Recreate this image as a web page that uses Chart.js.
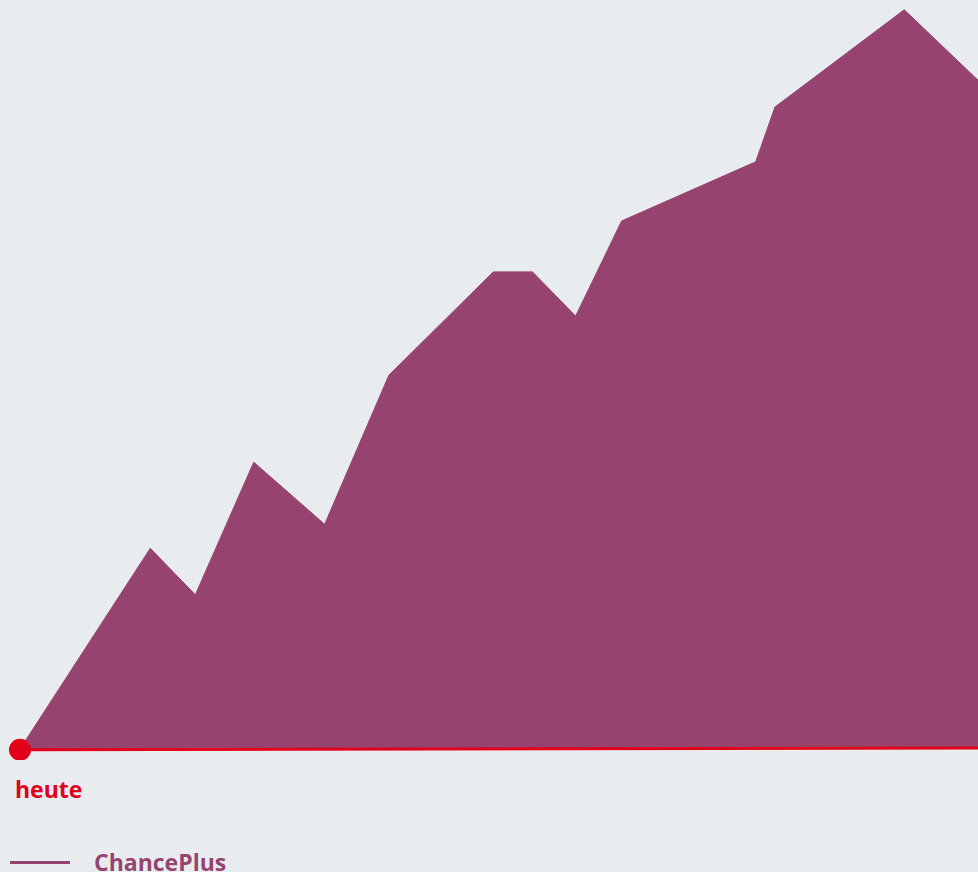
<!DOCTYPE html>
<html>
<head>
<meta charset="utf-8">
<script src="https://cdn.jsdelivr.net/npm/chart.js@4"></script>
<style>
  html, body { margin: 0; padding: 0; background: #e8ecef; }
  body { width: 978px; height: 872px; position: relative; overflow: hidden; font-family: "Open Sans", sans-serif; }
  /* wrapper sedikit lebih besar: Chart.js menambah padding untuk radius titik */
  #wrap { position: absolute; left: 0; top: -11px; width: 989px; height: 771px; }
  .heute { position: absolute; left: 15px; top: 775px; color: #e2001a; font-weight: 700; font-size: 23px; line-height: 28px; }
  .legend { position: absolute; left: 10px; top: 848px; height: 28px; display: flex; align-items: center; }
  .legend .swatch { width: 60px; height: 3px; background: #96446f; margin-right: 24px; }
  .legend span { color: #96446f; font-weight: 700; font-size: 23px; line-height: 28px; }
</style>
</head>
<body>
<div id="wrap"><canvas id="chancePlusChart"></canvas></div>
<div class="heute">heute</div>
<div class="legend"><div class="swatch"></div><span>ChancePlus</span></div>

<script>
// Zeitachse (0 = heute, 100 = Ende) und Werte der Kurve
const zeitpunkte = [0, 13.6, 18.3, 24.4, 31.8, 38.5, 49.4, 53.5, 58.0, 62.8, 76.8, 78.8, 92.3, 100];
const chancePlus = [0, 26.8, 20.6, 38.3, 30.0, 49.9, 63.7, 63.7, 57.8, 70.5, 78.4, 85.7, 98.7, 89.3];

// Basislinie (rot) von heute bis Ende
const basisZeit = [0, 100];
const basisWerte = [-0.1, 0.15];

const ctx = document.getElementById("chancePlusChart").getContext("2d");

new Chart(ctx, {
  type: "line",
  data: {
    datasets: [
      {
        label: "ChancePlus",
        data: zeitpunkte.map((x, i) => ({ x: x, y: chancePlus[i] })),
        borderColor: "#96446f",
        backgroundColor: "#96446f",
        borderWidth: 1,
        pointRadius: 0,
        tension: 0,
        fill: "origin",
        order: 2,
      },
      {
        label: "heute",
        data: basisZeit.map((x, i) => ({ x: x, y: basisWerte[i] })),
        borderColor: "#e2001a",
        backgroundColor: "#e2001a",
        borderWidth: 3,
        pointRadius: [11, 0],
        pointHoverRadius: [11, 0],
        pointBorderWidth: 0,
        fill: false,
        clip: false,
        order: 1,
      },
    ],
  },
  options: {
    responsive: true,
    maintainAspectRatio: false,
    animation: false,
    layout: { padding: { left: 20, right: 0, top: 0, bottom: 11 } },
    plugins: {
      legend: { display: false },
      tooltip: { enabled: false },
    },
    scales: {
      x: { type: "linear", min: 0, max: 100, display: false },
      y: { min: 0, max: 100, display: false },
    },
  },
});
</script>
</body>
</html>
